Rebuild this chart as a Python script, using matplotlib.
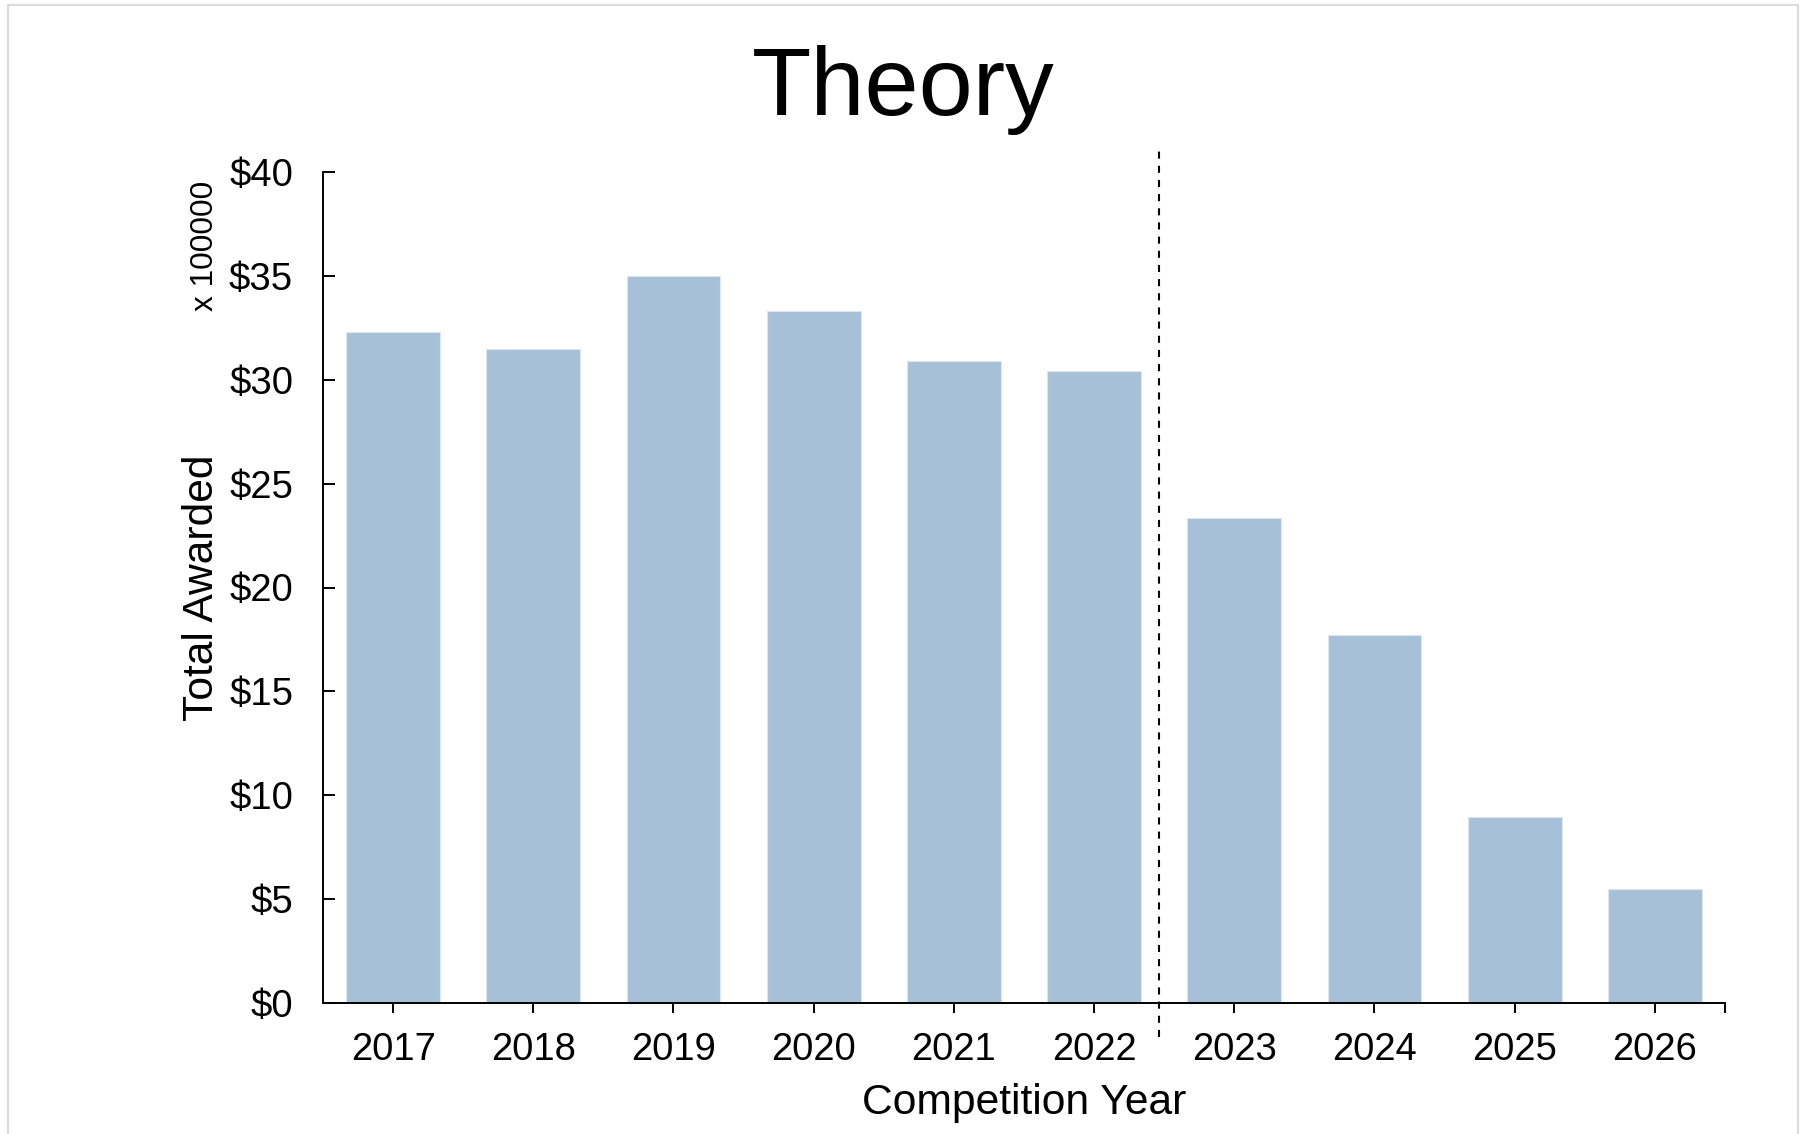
import matplotlib
matplotlib.use("Agg")
import matplotlib.pyplot as plt
from matplotlib.patches import Rectangle
from matplotlib.ticker import FuncFormatter

plt.rcParams['font.family'] = ['Liberation Sans', 'DejaVu Sans']

# awarded totals per competition year, in units of $100,000
years = ["2017", "2018", "2019", "2020", "2021", "2022", "2023", "2024", "2025", "2026"]
awarded = [32.3, 31.5, 35.0, 33.3, 30.9, 30.4, 23.35, 17.7, 8.97, 5.5]
y_ticks = [0, 5, 10, 15, 20, 25, 30, 35, 40]
split_pos = 5.465  # divider between past and projected years

bar_color = "#a6c0d8"

fig = plt.figure(figsize=(18.06, 11.34), dpi=100)
ax = fig.add_axes([323 / 1806, 1 - 1003 / 1134, (1725 - 323) / 1806, (1003 - 172) / 1134])

x = list(range(len(years)))
ax.bar(x, awarded, width=0.67, color=bar_color, edgecolor="#dbe6f0", linewidth=0.8, zorder=2)

ax.set_xlim(-0.5, len(years) - 0.5)
ax.set_ylim(0, 40)

# dashed divider, runs a little past the axes at both ends
ax.plot([split_pos, split_pos], [-1.65, 41.25], color="black", lw=1.5,
        dashes=(3.4, 3.4), clip_on=False, zorder=3)

ax.spines['top'].set_visible(False)
ax.spines['right'].set_visible(False)
for s in ['left', 'bottom']:
    ax.spines[s].set_linewidth(1.4)

ax.set_xticks(x)
ax.set_xticklabels(years)
ax.set_xticks([len(years) - 0.5], minor=True)
ax.set_yticks(y_ticks)
ax.yaxis.set_major_formatter(FuncFormatter(lambda v, p: f"${v:.0f}"))

ax.tick_params(axis='x', which='both', direction='out', length=7, width=1.4, labelsize=27.5, pad=14)
ax.tick_params(axis='y', direction='in', length=8.5, width=1.4, labelsize=27.5, pad=21.5)

ax.set_xlabel("Competition Year", fontsize=30.7, labelpad=11)
ax.set_ylabel("Total Awarded", fontsize=30.7, labelpad=5)

fig.text(205 / 1806, 1 - 246 / 1134, "x 100000", rotation=90, fontsize=22.8,
         ha='center', va='center')
fig.text(0.5, 1 - 115 / 1134, "Theory", fontsize=70, ha='center', va='baseline')

# light frame around the figure
fig.patches.append(Rectangle((8 / 1806, -0.01), (1798 - 8) / 1806, 1.01 - 5 / 1134,
                             transform=fig.transFigure, fill=False,
                             edgecolor="#dcdcdc", linewidth=1.6))

fig.savefig("out.png", dpi=100)
